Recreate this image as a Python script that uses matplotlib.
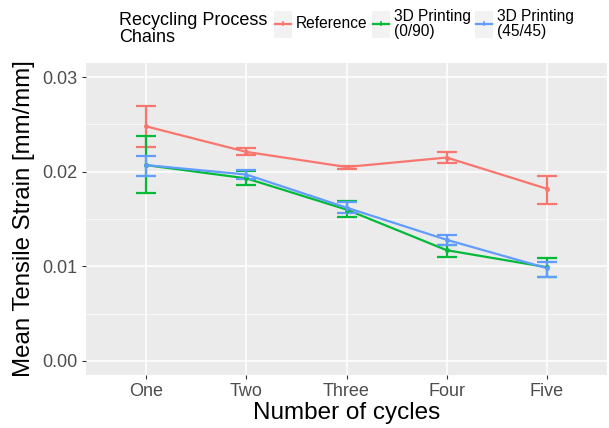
import matplotlib
matplotlib.use("Agg")
import matplotlib.pyplot as plt
from matplotlib.patches import Rectangle
from matplotlib.lines import Line2D
import numpy as np

plt.rcParams['font.family'] = ['Liberation Sans', 'DejaVu Sans']

# datos
cycles = ["One", "Two", "Three", "Four", "Five"]

ref_mean = [0.0248, 0.0221, 0.0205, 0.0215, 0.0182]
ref_lo = [0.0226, 0.0218, 0.0203, 0.0209, 0.0166]
ref_hi = [0.0270, 0.0225, 0.0206, 0.0221, 0.0196]

g_mean = [0.0207, 0.0193, 0.0160, 0.0117, 0.0099]
g_lo = [0.0177, 0.0186, 0.0152, 0.0110, 0.0089]
g_hi = [0.0238, 0.0201, 0.0169, 0.0122, 0.0109]

b_mean = [0.0207, 0.0197, 0.0162, 0.0128, 0.0098]
b_lo = [0.0196, 0.0192, 0.0156, 0.0122, 0.0089]
b_hi = [0.0217, 0.0202, 0.0168, 0.0133, 0.0105]

series = [
    ("Reference", "#F8766D", ref_mean, ref_lo, ref_hi),
    ("3D Printing\n(0/90)", "#00BA38", g_mean, g_lo, g_hi),
    ("3D Printing\n(45/45)", "#619CFF", b_mean, b_lo, b_hi),
]

W, H = 609, 428
fig = plt.figure(figsize=(W / 100, H / 100), dpi=100)
ax = fig.add_axes([86 / W, (H - 375) / H, 521 / W, 312 / H])
ax.set_facecolor("#EBEBEB")

x = np.arange(len(cycles))
for name, col, m, lo, hi in series:
    m = np.array(m)
    err = [m - np.array(lo), np.array(hi) - m]
    ax.plot(x, m, color=col, lw=1.6, zorder=3)
    ax.errorbar(x, m, yerr=err, fmt="o", ms=2.5, color=col, ecolor=col,
                elinewidth=1.6, capsize=7.2, capthick=1.6, zorder=3)

ax.set_xlim(-0.6, len(cycles) - 0.4)
ax.set_ylim(-0.0015, 0.0315)
ax.set_xticks(x)
ax.set_xticklabels(cycles)
ax.set_yticks([0.0, 0.01, 0.02, 0.03])
ax.set_yticklabels(["0.00", "0.01", "0.02", "0.03"])
ax.set_yticks([0.005, 0.015, 0.025], minor=True)

ax.grid(True, which="major", color="white", lw=1.1, zorder=0)
ax.grid(True, which="minor", axis="y", color="white", lw=0.5, zorder=0)
ax.set_axisbelow(True)
for s in ax.spines.values():
    s.set_visible(False)
ax.tick_params(axis="both", which="major", length=3, color="#333333",
               labelsize=13, labelcolor="#4D4D4D", pad=3)
ax.tick_params(axis="y", which="minor", length=0)

ax.set_xlabel("Number of cycles", fontsize=17.5, color="black", labelpad=1)
ax.set_ylabel("Mean Tensile Strain [mm/mm]", fontsize=17.3, color="black", labelpad=5)

# leyenda estilo ggplot arriba
fig.text(119 / W, 1 - 29 / H, "Recycling Process\nChains", fontsize=13,
         va="center", ha="left", linespacing=1.0)
key_x = [274, 372, 475]
for (name, col, *_), kx in zip(series, key_x):
    fig.patches.append(Rectangle((kx / W, 1 - 38 / H), 18 / W, 27 / H,
                                 transform=fig.transFigure, facecolor="#F2F2F2",
                                 edgecolor="none"))
    fig.lines.append(Line2D([(kx + 1) / W, (kx + 17) / W], [1 - 24 / H] * 2,
                            transform=fig.transFigure, color=col, lw=1.6))
    fig.lines.append(Line2D([(kx + 9) / W] * 2, [1 - 22 / H, 1 - 25 / H],
                            transform=fig.transFigure, color=col, lw=1.2))
    fig.text((kx + 22) / W, 1 - 24 / H, name, fontsize=11.2, va="center",
             ha="left", linespacing=1.0)

fig.savefig("out.png", dpi=100)
